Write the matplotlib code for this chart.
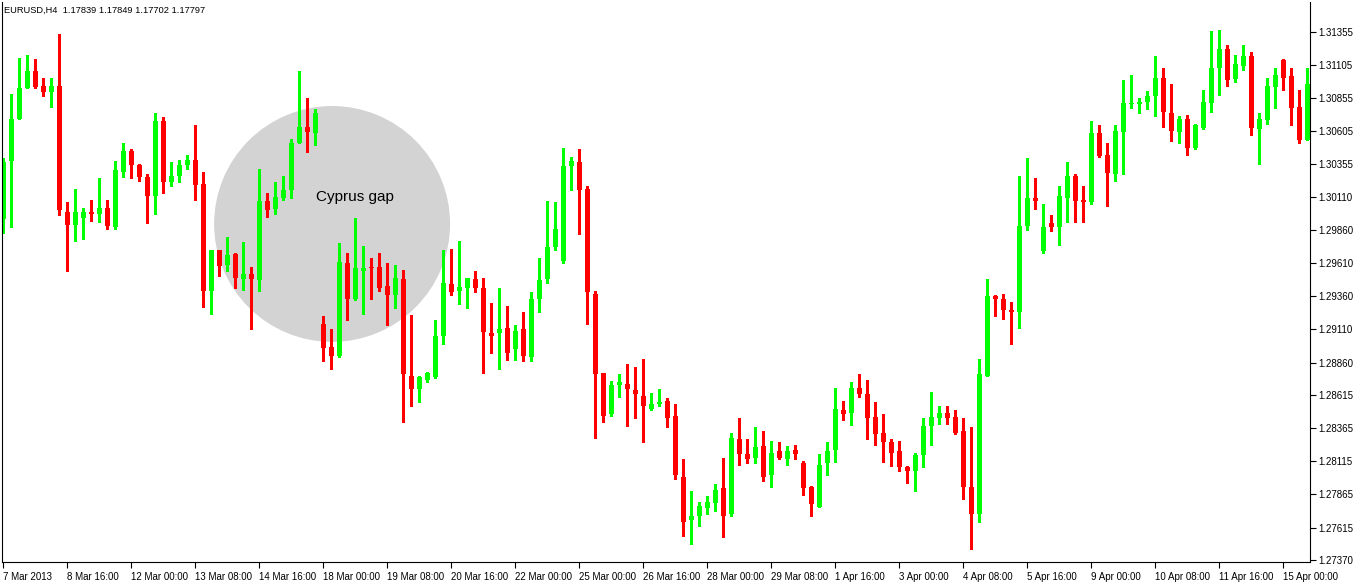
import numpy as np
import matplotlib.pyplot as plt
from matplotlib.patches import Ellipse

# EURUSD H4 candles, 7 Mar 2013 - 15 Apr 2013
opens = [1.2994, 1.3038, 1.3070, 1.3093, 1.3106, 1.3095, 1.3090, 1.3095, 1.3000, 1.2990,
         1.2995, 1.3000, 1.2998, 1.3003, 1.2988, 1.3030, 1.3046, 1.3035, 1.3026, 1.3012,
         1.3068, 1.3022, 1.3027, 1.3035, 1.3039, 1.3021, 1.2940, 1.2971, 1.2960, 1.2968,
         1.2949, 1.2953, 1.2948, 1.3008, 1.3002, 1.3010, 1.3016, 1.3052, 1.3064, 1.3059,
         1.2915, 1.2898, 1.2891, 1.2961, 1.2934, 1.2955, 1.2958, 1.2958, 1.2944, 1.2937,
         1.2949, 1.2876, 1.2866, 1.2873, 1.2875, 1.2906, 1.2945, 1.2940, 1.2942, 1.2949,
         1.2942, 1.2908, 1.2908, 1.2912, 1.2896, 1.2911, 1.2890, 1.2934, 1.2949, 1.2973,
         1.2963, 1.3034, 1.3037, 1.3017, 1.2938, 1.2878, 1.2847, 1.2869, 1.2870, 1.2865,
         1.2861, 1.2851, 1.2855, 1.2857, 1.2846, 1.2800, 1.2767, 1.2770, 1.2776, 1.2780,
         1.2791, 1.2772, 1.2828, 1.2817, 1.2814, 1.2823, 1.2801, 1.2819, 1.2813, 1.2820,
         1.2810, 1.2792, 1.2777, 1.2810, 1.2820, 1.2850, 1.2848, 1.2867, 1.2862, 1.2845,
         1.2833, 1.2826, 1.2819, 1.2807, 1.2804, 1.2816, 1.2838, 1.2844, 1.2848, 1.2845,
         1.2834, 1.2792, 1.2772, 1.2876, 1.2936, 1.2934, 1.2926, 1.2924, 1.2989, 1.3010,
         1.2970, 1.2991, 1.2988, 1.3010, 1.3027, 1.3009, 1.3007, 1.3059, 1.3043, 1.3028,
         1.3060, 1.3081, 1.3081, 1.3083, 1.3087, 1.3101, 1.3074, 1.3060, 1.3070, 1.3048,
         1.3063, 1.3082, 1.3108, 1.3123, 1.3100, 1.3110, 1.3117, 1.3062, 1.3069, 1.3094,
         1.3114, 1.3102, 1.3079, 1.3054]
highs = [1.3040, 1.3089, 1.3116, 1.3118, 1.3115, 1.3101, 1.3101, 1.3134, 1.3007, 1.3017,
         1.3003, 1.3009, 1.3025, 1.3009, 1.3038, 1.3052, 1.3047, 1.3036, 1.3028, 1.3074,
         1.3071, 1.3037, 1.3039, 1.3043, 1.3065, 1.3030, 1.2971, 1.2971, 1.2981, 1.2969,
         1.2977, 1.2958, 1.3032, 1.3014, 1.3022, 1.3027, 1.3055, 1.3106, 1.3086, 1.3077,
         1.2921, 1.2911, 1.2976, 1.2969, 1.2995, 1.2974, 1.2965, 1.2969, 1.2961, 1.2960,
         1.2956, 1.2922, 1.2876, 1.2879, 1.2918, 1.2971, 1.2972, 1.2978, 1.2950, 1.2955,
         1.2950, 1.2931, 1.2942, 1.2929, 1.2914, 1.2924, 1.2939, 1.2965, 1.3008, 1.3007,
         1.3048, 1.3041, 1.3047, 1.3019, 1.2940, 1.2878, 1.2872, 1.2877, 1.2885, 1.2883,
         1.2889, 1.2863, 1.2866, 1.2859, 1.2855, 1.2813, 1.2789, 1.2781, 1.2785, 1.2794,
         1.2814, 1.2833, 1.2844, 1.2828, 1.2837, 1.2834, 1.2827, 1.2826, 1.2823, 1.2824,
         1.2812, 1.2793, 1.2817, 1.2826, 1.2867, 1.2857, 1.2871, 1.2877, 1.2873, 1.2856,
         1.2847, 1.2828, 1.2827, 1.2808, 1.2818, 1.2844, 1.2864, 1.2853, 1.2853, 1.2850,
         1.2844, 1.2837, 1.2889, 1.2949, 1.2937, 1.2938, 1.2932, 1.3027, 1.3040, 1.3025,
         1.3006, 1.2997, 1.3019, 1.3037, 1.3028, 1.3019, 1.3068, 1.3065, 1.3052, 1.3065,
         1.3099, 1.3103, 1.3086, 1.3091, 1.3117, 1.3108, 1.3096, 1.3072, 1.3073, 1.3066,
         1.3092, 1.3136, 1.3137, 1.3126, 1.3118, 1.3126, 1.3120, 1.3074, 1.3101, 1.3108,
         1.3115, 1.3108, 1.3092, 1.3108]
lows = [1.2984, 1.2988, 1.3070, 1.3093, 1.3093, 1.3087, 1.3079, 1.2997, 1.2955, 1.2978,
        1.2979, 1.2993, 1.2992, 1.2987, 1.2987, 1.3026, 1.3025, 1.3023, 1.2991, 1.2998,
        1.3014, 1.3019, 1.3022, 1.3032, 1.3009, 1.2928, 1.2923, 1.2951, 1.2955, 1.2942,
        1.2941, 1.2911, 1.2940, 1.2996, 1.2998, 1.3009, 1.3010, 1.3052, 1.3045, 1.3050,
        1.2887, 1.2881, 1.2890, 1.2918, 1.2933, 1.2923, 1.2934, 1.2940, 1.2914, 1.2927,
        1.2841, 1.2853, 1.2856, 1.2871, 1.2874, 1.2900, 1.2937, 1.2930, 1.2927, 1.2939,
        1.2878, 1.2893, 1.2881, 1.2888, 1.2888, 1.2887, 1.2887, 1.2924, 1.2946, 1.2971,
        1.2961, 1.3016, 1.2983, 1.2915, 1.2829, 1.2841, 1.2846, 1.2860, 1.2838, 1.2844,
        1.2826, 1.2850, 1.2853, 1.2837, 1.2798, 1.2755, 1.2749, 1.2763, 1.2772, 1.2774,
        1.2754, 1.2770, 1.2809, 1.2810, 1.2810, 1.2797, 1.2792, 1.2813, 1.2809, 1.2813,
        1.2786, 1.2770, 1.2777, 1.2801, 1.2811, 1.2843, 1.2839, 1.2860, 1.2828, 1.2824,
        1.2811, 1.2808, 1.2804, 1.2795, 1.2789, 1.2807, 1.2824, 1.2840, 1.2840, 1.2832,
        1.2783, 1.2745, 1.2766, 1.2876, 1.2921, 1.2919, 1.2900, 1.2912, 1.2986, 1.3002,
        1.2969, 1.2985, 1.2975, 1.2992, 1.2992, 1.2992, 1.3006, 1.3041, 1.3004, 1.3023,
        1.3028, 1.3078, 1.3074, 1.3077, 1.3072, 1.3064, 1.3053, 1.3052, 1.3043, 1.3047,
        1.3062, 1.3075, 1.3088, 1.3095, 1.3098, 1.3107, 1.3058, 1.3036, 1.3066, 1.3078,
        1.3092, 1.3065, 1.3052, 1.3054]
closes = [1.3037, 1.3070, 1.3093, 1.3106, 1.3094, 1.3090, 1.3095, 1.3001, 1.2990, 1.3000,
          1.3000, 1.2998, 1.3003, 1.2989, 1.3031, 1.3046, 1.3035, 1.3026, 1.3012, 1.3068,
          1.3022, 1.3027, 1.3035, 1.3039, 1.3020, 1.2940, 1.2971, 1.2959, 1.2967, 1.2950,
          1.2953, 1.2949, 1.3008, 1.3001, 1.3011, 1.3016, 1.3052, 1.3064, 1.3060, 1.3074,
          1.2897, 1.2891, 1.2962, 1.2934, 1.2957, 1.2957, 1.2957, 1.2942, 1.2937, 1.2950,
          1.2877, 1.2866, 1.2875, 1.2878, 1.2906, 1.2946, 1.2939, 1.2943, 1.2950, 1.2942,
          1.2909, 1.2906, 1.2911, 1.2893, 1.2910, 1.2891, 1.2934, 1.2948, 1.2973, 1.2987,
          1.3034, 1.3038, 1.3016, 1.2939, 1.2877, 1.2846, 1.2869, 1.2871, 1.2866, 1.2862,
          1.2853, 1.2855, 1.2856, 1.2844, 1.2801, 1.2766, 1.2770, 1.2778, 1.2781, 1.2790,
          1.2770, 1.2829, 1.2817, 1.2813, 1.2822, 1.2800, 1.2818, 1.2814, 1.2819, 1.2817,
          1.2791, 1.2779, 1.2809, 1.2819, 1.2851, 1.2847, 1.2867, 1.2862, 1.2844, 1.2832,
          1.2826, 1.2818, 1.2807, 1.2804, 1.2816, 1.2838, 1.2845, 1.2848, 1.2844, 1.2833,
          1.2792, 1.2772, 1.2877, 1.2936, 1.2934, 1.2926, 1.2924, 1.2989, 1.3010, 1.3008,
          1.2988, 1.2988, 1.3012, 1.3027, 1.3008, 1.3007, 1.3059, 1.3042, 1.3029, 1.3061,
          1.3082, 1.3082, 1.3083, 1.3087, 1.3101, 1.3075, 1.3061, 1.3070, 1.3048, 1.3065,
          1.3083, 1.3108, 1.3123, 1.3099, 1.3111, 1.3117, 1.3063, 1.3070, 1.3095, 1.3103,
          1.3101, 1.3078, 1.3054, 1.3096]

time_labels = ["7 Mar 2013", "8 Mar 16:00", "12 Mar 00:00", "13 Mar 08:00", "14 Mar 16:00",
               "18 Mar 00:00", "19 Mar 08:00", "20 Mar 16:00", "22 Mar 00:00", "25 Mar 00:00",
               "26 Mar 16:00", "28 Mar 00:00", "29 Mar 08:00", "1 Apr 16:00", "3 Apr 00:00",
               "4 Apr 08:00", "5 Apr 16:00", "9 Apr 00:00", "10 Apr 08:00", "11 Apr 16:00",
               "15 Apr 00:00"]
price_ticks = [1.31355, 1.31105, 1.30855, 1.30605, 1.30355, 1.30110, 1.29860, 1.29610, 1.29360,
               1.29110, 1.28860, 1.28615, 1.28365, 1.28115, 1.27865, 1.27615, 1.27370]
header = "EURUSD,H4  1.17839 1.17849 1.17702 1.17797"

o = np.array(opens)
h = np.array(highs)
l = np.array(lows)
c = np.array(closes)
idx = np.arange(len(o))
up = c >= o
colors = np.where(up, '#00ff00', '#ff0000')

W, H = 1358, 584
fig = plt.figure(figsize=(W / 100, H / 100), dpi=100)
ax = fig.add_axes([2 / W, 22 / H, 1308 / W, 560 / H])

# circle marking the gap (drawn behind the candles)
ax.add_patch(Ellipse((41.1, 1.29906), width=29.5, height=0.0178,
                     facecolor='#d3d3d3', edgecolor='none', zorder=0))
ax.text(44, 1.3011, "Cyprus gap", ha='center', va='center', fontsize=11,
        family='Liberation Sans', color='black', zorder=3)

# wicks and bodies
ax.vlines(idx, l, h, colors=colors, linewidth=0.8, zorder=1, antialiased=False)
body = np.maximum(np.abs(c - o), 0.00008)
ax.bar(idx, body, bottom=np.minimum(o, c), width=0.68, color=colors,
       linewidth=0, zorder=2, antialiased=False)

ax.set_xlim(-0.1625, 163.34)
ax.set_ylim(1.27355, 1.31581)

ax.yaxis.tick_right()
ax.set_yticks(price_ticks)
ax.set_yticklabels([f"{p:.5f}" for p in price_ticks], fontsize=7, family='Liberation Sans')
ax.set_xticks(idx[::8])
ax.set_xticklabels(time_labels, fontsize=7, family='Liberation Sans', ha='left')
ax.tick_params(axis='both', direction='out', length=4, width=0.8, pad=2, colors='black')
ax.tick_params(axis='x', pad=3)
for s in ax.spines.values():
    s.set_linewidth(0.8)
    s.set_color('black')
ax.spines['top'].set_visible(False)

fig.text(4 / W, 1 - 10 / H, header, fontsize=6.7, family='Liberation Sans', va='center')

fig.savefig('out.png', dpi=100)
